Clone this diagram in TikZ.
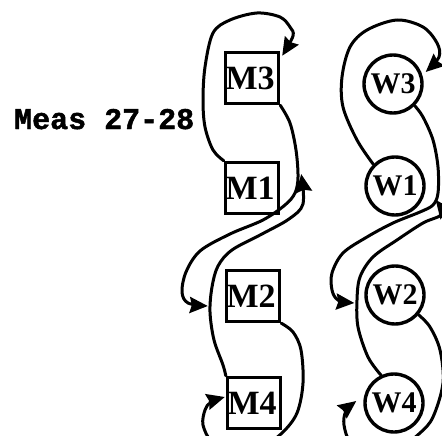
\documentclass[tikz,border=0pt]{standalone}
\usepackage{fontspec}
\setmainfont{Liberation Serif}
\newfontfamily\measfont{Liberation Mono}[BoldFeatures={FakeBold=1.6}]
\usetikzlibrary{arrows.meta,calc}
\begin{document}
\begin{tikzpicture}[x=1pt,y=-1pt,
  mbox/.style={draw,line width=3.4pt,rectangle,minimum height=51pt,
    text width=53pt,inner xsep=0pt,inner ysep=0pt,align=left,
    font=\fontsize{34}{34}\selectfont\bfseries},
  wcirc/.style={draw,line width=3.4pt,circle,minimum size=58pt,inner sep=0pt,
    font=\fontsize{30}{30}\selectfont\bfseries},
  conn/.style={line width=3pt,line cap=round,line join=round,
    -{Stealth[length=18pt,width=16pt,inset=2pt]}}]
\useasboundingbox (0,0) rectangle (442,436);
\clip (0,0) rectangle (442,436);

% caption
\node[anchor=base west,inner sep=0pt,font=\measfont\fontsize{30}{30}\selectfont\bfseries]
  (meas) at (14,129) {Meas 27-28};

% M column
\node[mbox] (M3) at (252,78)  {M3};
\node[mbox] (M1) at (252,188) {M1};
\node[mbox] (M2) at (253,296) {M2};
\node[mbox] (M4) at (254,403) {M4};

% W column
\node[wcirc] (W3) at (393,84)  {W3};
\node[wcirc] (W1) at (395,186) {W1};
\node[wcirc] (W2) at (395,295) {W2};
\node[wcirc] (W4) at (394,403) {W4};

% arrow tips that stop short of the nodes
\coordinate (tM3) at ($(M3.north east)+(2,5)$);
\coordinate (tM1) at ($(M1.east)+(21,-14)$);
\coordinate (tM2) at ($(M2.west)+(-17,10)$);
\coordinate (tM4) at ($(M4.west)+(-1,-6)$);
\coordinate (tW3) at ($(W3.east)+(2,-12)$);
\coordinate (tW1) at ($(W1.east)+(10,14)$);
\coordinate (tW2) at ($(W2.west)+(-10,8)$);
\coordinate (tW4) at ($(W4.west)+(-7,-2)$);

% M1 -> M3
\draw[conn] plot[smooth,tension=0.55] coordinates {(M1.north west) (213,150) (205,127)
  (203,100) (205,67) (213,33) (230,20) (257,13) (280,17) (290,27) (293,36) (tM3)};
% M3 -> M2
\draw[conn] plot[smooth,tension=0.55] coordinates {(M3.south east) (290,123) (296,150)
  (298,177) (295,193) (285,205) (263,220) (230,234) (200,251) (186,272) (182,292)
  (188,303) (tM2)};
% M4 -> M1
\draw[conn] plot[smooth,tension=0.55] coordinates {(M4.north west) (223,365) (214,340)
  (210,312) (212,287) (218,266) (232,250) (262,234) (289,219) (303,204) (tM1)};
% M2 -> M4
\draw[conn] plot[smooth,tension=0.55] coordinates {(M2.south east) (293,332) (301,350)
  (303,383) (297,413) (282,433) (262,446) (232,450) (212,442) (203,425) (205,410)
  (211,402) (tM4)};

% W1 -> W3
\draw[conn] plot[smooth,tension=0.55] coordinates {(W1.north west) (357,140) (343,107)
  (342,77) (350,47) (367,30) (397,20) (423,27) (437,43) (439,57) (tW3)};
% W3 -> W2
\draw[conn] plot[smooth,tension=0.55] coordinates {(W3.south east) (423,117) (433,140)
  (438,167) (438,193) (433,205) (420,212) (393,223) (367,237) (343,253) (332,273)
  (332,290) (338,300) (tW2)};
% W4 -> W1
\draw[conn] plot[smooth,tension=0.55] coordinates {(W4.115) (368,357) (358,327)
  (357,300) (360,277) (373,257) (397,240) (423,223) (442,214) (tW1)};
% W2 -> W4
\draw[conn] plot[smooth,tension=0.55] coordinates {(W2.-40) (430,327) (440,350)
  (443,383) (433,417) (420,433) (400,447) (372,451) (351,443) (344,425) (346,411) (tW4)};
\end{tikzpicture}
\end{document}
